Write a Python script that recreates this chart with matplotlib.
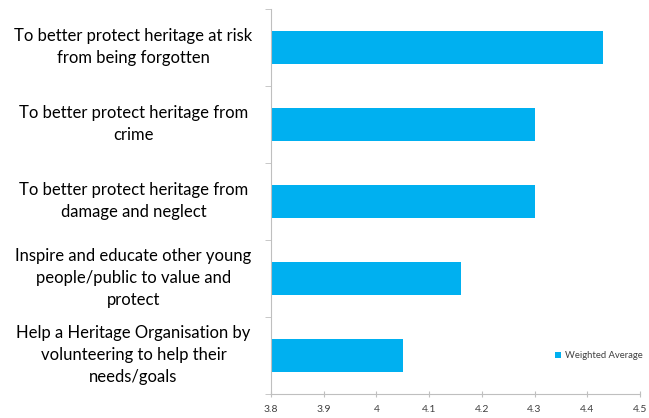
import matplotlib
matplotlib.use("Agg")
import matplotlib.pyplot as plt
import matplotlib.transforms as mtransforms
import numpy as np

categories = [
    "To better protect heritage at risk\nfrom being forgotten",
    "To better protect heritage from\ncrime",
    "To better protect heritage from\ndamage and neglect",
    "Inspire and educate other young\npeople/public to value and\nprotect",
    "Help a Heritage Organisation by\nvolunteering to help their\nneeds/goals",
]
values = [4.43, 4.30, 4.30, 4.16, 4.05]
xticks = [3.8, 3.9, 4.0, 4.1, 4.2, 4.3, 4.4, 4.5]
xticklabels = ["3.8", "3.9", "4", "4.1", "4.2", "4.3", "4.4", "4.5"]

plt.rcParams['font.family'] = ['Lato', 'DejaVu Sans']

fig = plt.figure(figsize=(6.49, 4.18), dpi=100)
ax = fig.add_axes([271/649, 24/418, 369/649, 385/418])

n = len(categories)
y = np.arange(n)[::-1]
ax.barh(y, [v - 3.8 for v in values], left=3.8, height=0.42, color="#00B0F0", label="Weighted Average")
ax.set_xlim(3.8, 4.5)
ax.set_ylim(-0.5, n - 0.5)
ax.set_xticks(xticks)
ax.set_xticklabels(xticklabels, fontsize=7.5, color="#404040")
ax.set_yticks(y)
ax.set_yticklabels(categories, fontsize=12, ha="center", color="#000000", linespacing=1.45)
ax.tick_params(axis="y", length=0, pad=99)
offset = mtransforms.ScaledTranslation(0, 5/100, fig.dpi_scale_trans)
for lab in ax.get_yticklabels():
    lab.set_transform(lab.get_transform() + offset)
ax.set_yticks(np.arange(-0.5, n, 1.0), minor=True)
ax.tick_params(axis="y", which="minor", length=4, color="#bfbfbf")
ax.tick_params(axis="x", length=4, color="#bfbfbf", direction="inout", pad=6)
for s in ["top", "right"]:
    ax.spines[s].set_visible(False)
for s in ["left", "bottom"]:
    ax.spines[s].set_color("#bfbfbf")
    ax.spines[s].set_linewidth(0.8)

leg = ax.legend(loc="lower right", bbox_to_anchor=(1.03, 0.065), frameon=False, fontsize=6.8,
                handlelength=0.6, handleheight=0.6, handletextpad=0.4)
for t in leg.get_texts():
    t.set_color("#404040")

fig.savefig("out.png", dpi=100)
